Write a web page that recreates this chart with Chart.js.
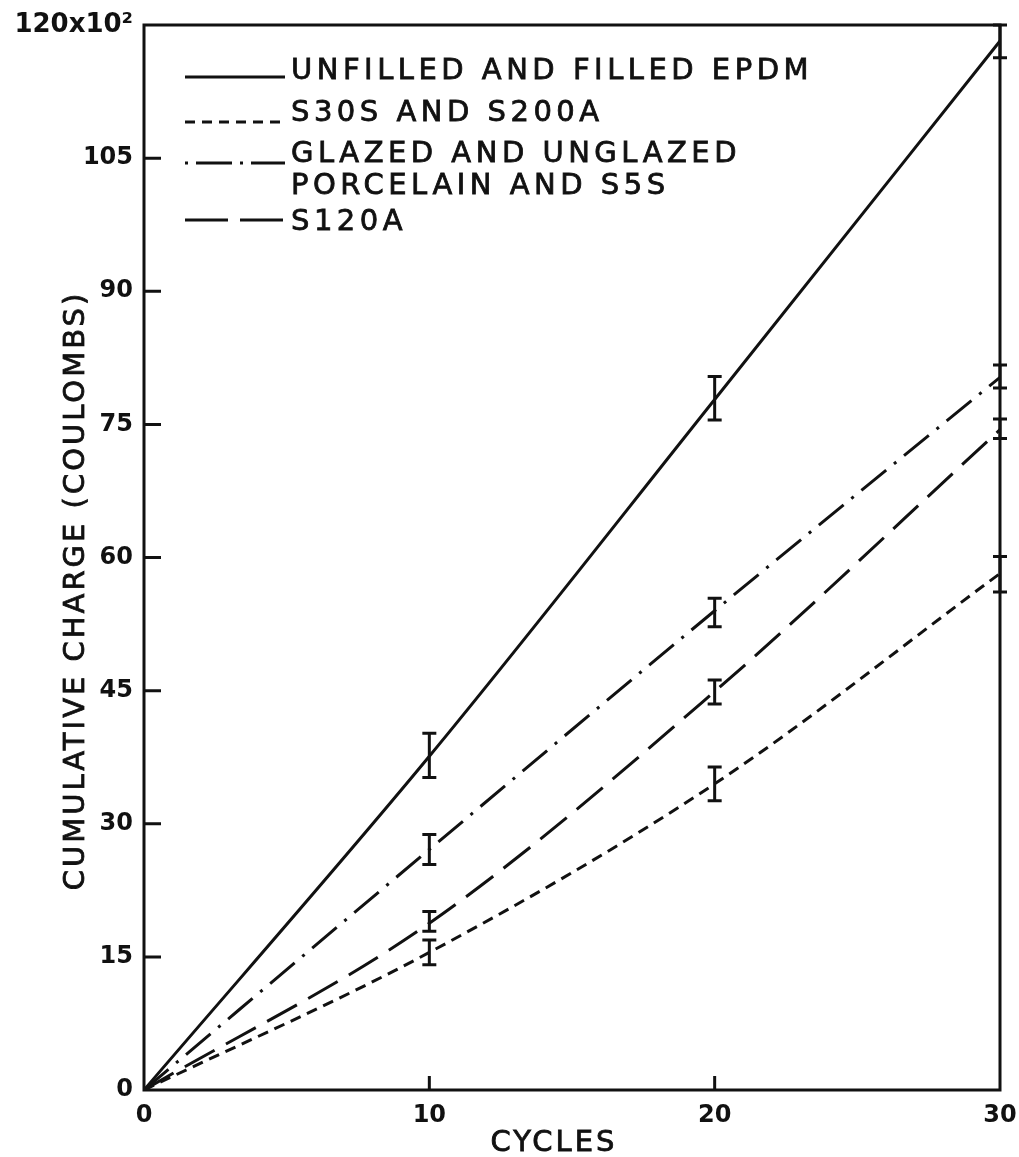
<!DOCTYPE html>
<html>
<head>
<meta charset="utf-8">
<title>Cumulative charge vs cycles</title>
<script src="https://cdn.jsdelivr.net/npm/chart.js@4.4.1/dist/chart.umd.min.js"></script>
<style>
  html, body { margin: 0; padding: 0; background: #fff; }
  #wrap { width: 1019px; height: 1157px; position: relative; }
</style>
</head>
<body>
<div id="wrap"><canvas id="chart"></canvas></div>
<script>
// Cycle counts on the x axis
const cycles = [0, 10, 20, 30];

// Cumulative charge (x10^2 C) with error bar limits
const epdmCharge = [0, 37.6, 77.8, 118.2];
const epdmLow    = [null, 35.2, 75.5, 116.3];
const epdmHigh   = [null, 40.2, 80.4, 120.0];

const s30sCharge = [0, 15.5, 34.5, 58.2];
const s30sLow    = [null, 14.1, 32.6, 56.1];
const s30sHigh   = [null, 16.9, 36.4, 60.1];

const porcelainCharge = [0, 27.1, 54.0, 80.3];
const porcelainLow    = [null, 25.4, 52.2, 79.1];
const porcelainHigh   = [null, 28.8, 55.4, 81.7];

const s120aCharge = [0, 18.8, 44.9, 74.4];
const s120aLow    = [null, 17.9, 43.5, 73.4];
const s120aHigh   = [null, 20.1, 46.2, 75.6];

// Legend text, one entry per line of text
const epdmLabel = ['UNFILLED AND FILLED EPDM'];
const s30sLabel = ['S30S AND S200A'];
const porcelainLabel = ['GLAZED AND UNGLAZED', 'PORCELAIN AND S5S'];
const s120aLabel = ['S120A'];

// Axis ticks and titles
const xTickValues = [0, 10, 20, 30];
const yTickValues = [0, 15, 30, 45, 60, 75, 90, 105, 120];
const yTopTickLabel = '120x10\u00B2';
const xTitle = 'CYCLES';
const yTitle = 'CUMULATIVE CHARGE (COULOMBS)';

const INK = '#111';
const toPoints = vals => cycles.map((c, i) => ({ x: c, y: vals[i] }));

function series(label, vals, low, high, dash, legendDash) {
  return {
    label: label.join(' '),
    legendLines: label,
    legendDash: legendDash,
    data: toPoints(vals),
    errLow: low,
    errHigh: high,
    borderColor: INK,
    borderWidth: 3,
    borderDash: dash,
    borderCapStyle: 'butt',
    pointRadius: 0,
    cubicInterpolationMode: 'monotone',
    fill: false
  };
}

// Box round the plot area plus inward tick marks
const framePlugin = {
  id: 'frame',
  afterDatasetsDraw(chart) {
    const { ctx, chartArea: a, scales: { x, y } } = chart;
    ctx.save();
    ctx.strokeStyle = INK;
    ctx.lineWidth = 3;
    ctx.strokeRect(a.left, a.top, a.right - a.left, a.bottom - a.top);
    ctx.beginPath();
    yTickValues.forEach(v => {
      if (v === 0 || v === 120) return;
      const py = y.getPixelForValue(v);
      ctx.moveTo(a.left, py);
      ctx.lineTo(a.left + 17, py);
    });
    xTickValues.forEach(v => {
      if (v === 0 || v === 30) return;
      const px = x.getPixelForValue(v);
      ctx.moveTo(px, a.bottom);
      ctx.lineTo(px, a.bottom - 14);
    });
    ctx.stroke();
    ctx.restore();
  }
};

// Vertical error bars with short caps
const errorBarPlugin = {
  id: 'errorBars',
  afterDatasetsDraw(chart) {
    const { ctx, scales: { x, y } } = chart;
    ctx.save();
    ctx.strokeStyle = INK;
    ctx.lineWidth = 3;
    ctx.setLineDash([]);
    chart.data.datasets.forEach(ds => {
      ds.data.forEach((p, i) => {
        const lo = ds.errLow[i], hi = ds.errHigh[i];
        if (lo == null || hi == null) return;
        const px = x.getPixelForValue(p.x);
        const y0 = y.getPixelForValue(lo), y1 = y.getPixelForValue(hi);
        ctx.beginPath();
        ctx.moveTo(px, y0); ctx.lineTo(px, y1);
        ctx.moveTo(px - 7, y0); ctx.lineTo(px + 7, y0);
        ctx.moveTo(px - 7, y1); ctx.lineTo(px + 7, y1);
        ctx.stroke();
      });
    });
    ctx.restore();
  }
};

// Text with a thin outline so it reads a little heavier
function heavyText(ctx, text, x, y) {
  ctx.fillText(text, x, y);
  ctx.strokeText(text, x, y);
}

// Legend in the upper left corner of the plot: line sample then text
const legendPlugin = {
  id: 'cornerLegend',
  afterDatasetsDraw(chart) {
    const { ctx, chartArea: a } = chart;
    const rows = [52, 97, 138, 195];      // sample line offsets from plot top
    const textShift = [2, -1, -1, 10];    // text baseline relative to the sample line
    ctx.save();
    ctx.fillStyle = INK;
    ctx.strokeStyle = INK;
    ctx.font = '29px "DejaVu Sans"';
    ctx.letterSpacing = '4.5px';
    ctx.textBaseline = 'alphabetic';
    ctx.textAlign = 'left';
    chart.data.datasets.forEach((ds, i) => {
      const ly = a.top + rows[i];
      const x0 = a.left + 41, x1 = a.left + 141;
      ctx.beginPath();
      ctx.lineWidth = 3;
      ctx.setLineDash(ds.legendDash || ds.borderDash || []);
      ctx.moveTo(x0, ly); ctx.lineTo(x1, ly);
      ctx.stroke();
      ctx.setLineDash([]);
      ctx.lineWidth = 0.8;
      ds.legendLines.forEach((t, k) => {
        heavyText(ctx, t, x1 + 6, ly + textShift[i] + k * 32);
      });
    });
    ctx.restore();
  }
};

// Axis titles, spaced out
const axisTitlePlugin = {
  id: 'axisTitles',
  afterDraw(chart) {
    const { ctx, chartArea: a } = chart;
    ctx.save();
    ctx.fillStyle = INK;
    ctx.strokeStyle = INK;
    ctx.lineWidth = 0.8;
    ctx.font = '29px "DejaVu Sans"';
    ctx.letterSpacing = '3px';
    ctx.textAlign = 'center';
    ctx.textBaseline = 'middle';
    heavyText(ctx, xTitle, (a.left + a.right) / 2 - 18, a.bottom + 53);
    ctx.translate(76, (a.top + a.bottom) / 2 + 33);
    ctx.rotate(-Math.PI / 2);
    heavyText(ctx, yTitle, 0, 0);
    ctx.restore();
  }
};

const tickFont = { family: 'DejaVu Sans', size: 24, weight: 'bold' };
const topTickFont = { family: 'DejaVu Sans', size: 26, weight: 'bold' };

new Chart(document.getElementById('chart'), {
  type: 'line',
  data: {
    datasets: [
      series(epdmLabel, epdmCharge, epdmLow, epdmHigh, [], null),
      series(s30sLabel, s30sCharge, s30sLow, s30sHigh, [11, 7], [10, 7]),
      series(porcelainLabel, porcelainCharge, porcelainLow, porcelainHigh, [32, 10, 3, 10], [3, 8, 36, 8]),
      series(s120aLabel, s120aCharge, s120aLow, s120aHigh, [34, 13], [43, 12])
    ]
  },
  options: {
    responsive: true,
    maintainAspectRatio: false,
    animation: false,
    layout: { padding: { top: 25, right: 19, left: 0, bottom: 0 } },
    plugins: { legend: { display: false }, tooltip: { enabled: false } },
    scales: {
      x: {
        type: 'linear',
        min: 0,
        max: 30,
        afterBuildTicks: s => { s.ticks = xTickValues.map(v => ({ value: v })); },
        afterFit: s => { s.height = 67; s.paddingLeft = 0; s.paddingRight = 0; },
        grid: { display: false, drawTicks: false },
        border: { display: false },
        ticks: { color: INK, font: tickFont, padding: 11, maxRotation: 0, autoSkip: false }
      },
      y: {
        type: 'linear',
        min: 0,
        max: 120,
        afterBuildTicks: s => { s.ticks = yTickValues.map(v => ({ value: v })); },
        afterFit: s => { s.width = 144; s.paddingTop = 0; s.paddingBottom = 0; },
        grid: { display: false, drawTicks: false },
        border: { display: false },
        ticks: {
          color: INK,
          font: c => (c.tick && c.tick.value === 120 ? topTickFont : tickFont),
          padding: 11,
          autoSkip: false,
          callback: v => (v === 120 ? yTopTickLabel : String(v))
        }
      }
    }
  },
  plugins: [framePlugin, errorBarPlugin, legendPlugin, axisTitlePlugin]
});
</script>
</body>
</html>
